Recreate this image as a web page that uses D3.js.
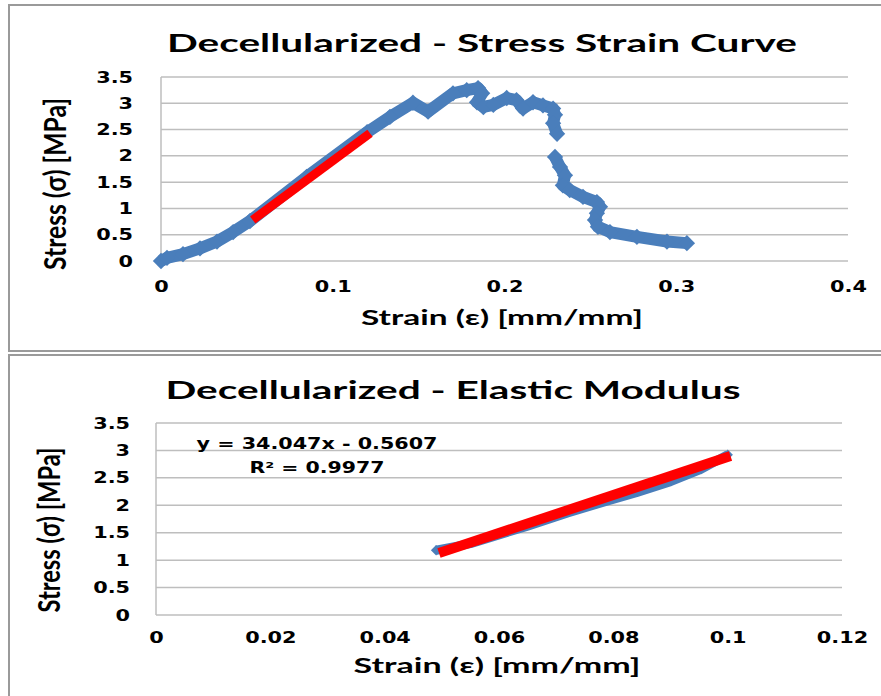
<html>
<head>
<style>
body { margin: 0; background: #fff; }
text { font-family: "DejaVu Sans", sans-serif; font-weight: bold; fill: #000; }
.ttl { font-family: Lato, "Open Sans", sans-serif; }
</style>
<script src="https://d3js.org/d3.v7.min.js"></script>
</head>
<body>
<script type="text/javascript">
// stress-strain curve (two runs, there is a gap in the markers near 0.23)
var loadStrain = [0, 0.0035, 0.0128, 0.0227, 0.0326, 0.042, 0.0518, 0.0848, 0.12, 0.1333, 0.1467, 0.1555, 0.17, 0.178, 0.1846, 0.187, 0.184, 0.1877, 0.1935, 0.2013, 0.207, 0.2108, 0.2166, 0.2224, 0.2283, 0.2294, 0.2283, 0.2306];
var loadStress = [0, 0.06, 0.13, 0.24, 0.37, 0.55, 0.76, 1.6, 2.45, 2.74, 3.01, 2.84, 3.19, 3.25, 3.29, 3.19, 3.02, 2.93, 2.97, 3.1, 3.06, 2.9, 3.02, 2.96, 2.9, 2.78, 2.62, 2.42];
var failStrain = [0.2294, 0.2323, 0.2352, 0.234, 0.238, 0.2457, 0.2538, 0.2556, 0.2538, 0.2527, 0.2544, 0.2614, 0.2771, 0.2946, 0.3062];
var failStress = [1.98, 1.79, 1.63, 1.44, 1.35, 1.22, 1.12, 1.03, 0.91, 0.78, 0.65, 0.55, 0.46, 0.37, 0.34];
var linStrainTop = [0.0534, 0.1217];
var linStressTop = [0.78, 2.43];

// elastic region only
var elStrain = [0.049, 0.055, 0.065, 0.072, 0.079, 0.084, 0.09, 0.095, 0.1];
var elStress = [1.18, 1.3, 1.62, 1.86, 2.08, 2.23, 2.43, 2.64, 2.92];
var fitStrain = [0.0495, 0.1005];
var fitStress = [1.13, 2.9];
var fitLabel = ["y = 34.047x - 0.5607", "R\u00b2 = 0.9977"];

var stressTicks = [0, 0.5, 1, 1.5, 2, 2.5, 3, 3.5];
var strainTicksTop = [0, 0.1, 0.2, 0.3, 0.4];
var strainTicksBot = [0, 0.02, 0.04, 0.06, 0.08, 0.1, 0.12];

var blue = '#4A7EBB', red = '#FF0000', grid = '#BEBEBE';
var squash = 1.3; // the picture is stretched sideways

var svg = d3.select('body').append('svg')
  .attr('width', 881).attr('height', 696);

// panel frames
svg.append('rect').attr('x', 9).attr('y', 5).attr('width', 900).attr('height', 346)
  .attr('fill', 'none').attr('stroke', '#9A9A9A').attr('stroke-width', 2);
svg.append('rect').attr('x', 9).attr('y', 355).attr('width', 900).attr('height', 400)
  .attr('fill', 'none').attr('stroke', '#9A9A9A').attr('stroke-width', 2);

function widen(sel) {
  sel.each(function() {
    var w = this.getComputedTextLength();
    d3.select(this).attr('textLength', w * squash).attr('lengthAdjust', 'spacingAndGlyphs');
  });
}

function pairs(xs, ys) {
  return xs.map(function(x, i) { return [x, ys[i]]; });
}

var drawPanel = function(o) {
  var x = d3.scaleLinear().domain(o.xDomain).range(o.xRange);
  var y = d3.scaleLinear().domain([0, 3.5]).range(o.yRange);
  var g = svg.append('g');

  // gridlines
  g.selectAll('line.grid')
    .data(stressTicks)
    .enter()
    .append('line')
    .attr('x1', o.xRange[0]).attr('x2', o.xRange[1])
    .attr('y1', function(d) { return y(d); })
    .attr('y2', function(d) { return y(d); })
    .attr('stroke', grid).attr('stroke-width', 1.5);
  g.append('line')
    .attr('x1', o.xRange[0]).attr('x2', o.xRange[0])
    .attr('y1', o.yRange[0]).attr('y2', o.yRange[1])
    .attr('stroke', grid).attr('stroke-width', 1.5);

  // axes
  var yAxis = d3.axisLeft(y).tickValues(stressTicks).tickSize(0).tickPadding(o.yPad)
    .tickFormat(function(d) { return d; });
  var ya = g.append('g').attr('transform', 'translate(' + o.xRange[0] + ',0)').call(yAxis);
  ya.select('.domain').remove();
  ya.selectAll('text').style('font-size', '16px').style('font-family', '"DejaVu Sans"');
  widen(ya.selectAll('text'));

  var xAxis = d3.axisBottom(x).tickValues(o.xTicks).tickSize(0).tickPadding(o.xPad)
    .tickFormat(function(d) { return d; });
  var xa = g.append('g').attr('transform', 'translate(0,' + o.yRange[0] + ')').call(xAxis);
  xa.select('.domain').remove();
  xa.selectAll('text').style('font-size', '16px').style('font-family', '"DejaVu Sans"');
  widen(xa.selectAll('text'));

  // titles
  g.append('text').attr('class', 'ttl')
    .attr('x', o.title[1]).attr('y', o.title[2])
    .attr('text-anchor', 'middle')
    .style('font-size', '25px')
    .attr('textLength', o.title[3]).attr('lengthAdjust', 'spacingAndGlyphs')
    .text(o.title[0]);
  g.append('text').attr('class', 'ttl')
    .attr('x', o.xTitle[0]).attr('y', o.xTitle[1])
    .attr('text-anchor', 'middle')
    .style('font-size', '20px')
    .attr('textLength', o.xTitle[2]).attr('lengthAdjust', 'spacingAndGlyphs')
    .text('Strain (\u03b5) [mm/mm]');
  g.append('text').attr('class', 'ttl')
    .attr('transform', 'translate(' + o.yTitle[0] + ',' + o.yTitle[1] + ') scale(' + squash + ',1) rotate(-90)')
    .attr('text-anchor', 'middle')
    .style('font-size', '23px')
    .attr('textLength', o.yTitle[2]).attr('lengthAdjust', 'spacingAndGlyphs')
    .text('Stress (\u03c3) [MPa]');

  return { x: x, y: y, g: g };
};

function curve(p, data, color, width) {
  var line = d3.line()
    .x(function(d) { return p.x(d[0]); })
    .y(function(d) { return p.y(d[1]); });
  p.g.append('path')
    .attr('d', line(data))
    .attr('fill', 'none')
    .attr('stroke', color)
    .attr('stroke-width', width)
    .attr('stroke-linejoin', 'round');
}

function markers(p, data, color, size) {
  p.g.selectAll(null)
    .data(data)
    .enter()
    .append('path')
    .attr('d', d3.symbol().type(d3.symbolDiamond2).size(size))
    .attr('transform', function(d) { return 'translate(' + p.x(d[0]) + ',' + p.y(d[1]) + ')'; })
    .attr('fill', color);
}

// ---- top: full curve
var topPanel = drawPanel({
  xDomain: [0, 0.4], xRange: [161, 848], yRange: [261, 77],
  xTicks: strainTicksTop, yPad: 28, xPad: 20,
  title: ['Decellularized - Stress Strain Curve', 482, 52, 630],
  xTitle: [502, 325, 282],
  yTitle: [66, 184, 172]
});
var loadPts = pairs(loadStrain, loadStress);
var failPts = pairs(failStrain, failStress);
curve(topPanel, loadPts, blue, 12);
curve(topPanel, failPts, blue, 12);
markers(topPanel, loadPts, blue, 170);
markers(topPanel, failPts, blue, 170);
curve(topPanel, pairs(linStrainTop, linStressTop), red, 9);

// ---- bottom: elastic modulus
var botPanel = drawPanel({
  xDomain: [0, 0.12], xRange: [156, 842], yRange: [615, 423],
  xTicks: strainTicksBot, yPad: 26, xPad: 17,
  title: ['Decellularized - Elastic Modulus', 453, 399, 575],
  xTitle: [497, 673, 287],
  yTitle: [60, 530, 165]
});
var elPts = pairs(elStrain, elStress);
curve(botPanel, elPts, blue, 9);
markers(botPanel, [elPts[0], elPts[elPts.length - 1]], blue, 70);
curve(botPanel, pairs(fitStrain, fitStress), red, 10);

botPanel.g.selectAll('text.eq')
  .data(fitLabel)
  .enter()
  .append('text')
  .attr('class', 'eq')
  .attr('x', 317)
  .attr('y', function(d, i) { return i == 0 ? 449 : 473; })
  .attr('text-anchor', 'middle')
  .style('font-size', '16px')
  .attr('textLength', function(d, i) { return i == 0 ? 241 : 135; })
  .attr('lengthAdjust', 'spacingAndGlyphs')
  .text(function(d) { return d; });
</script>
</body>
</html>
